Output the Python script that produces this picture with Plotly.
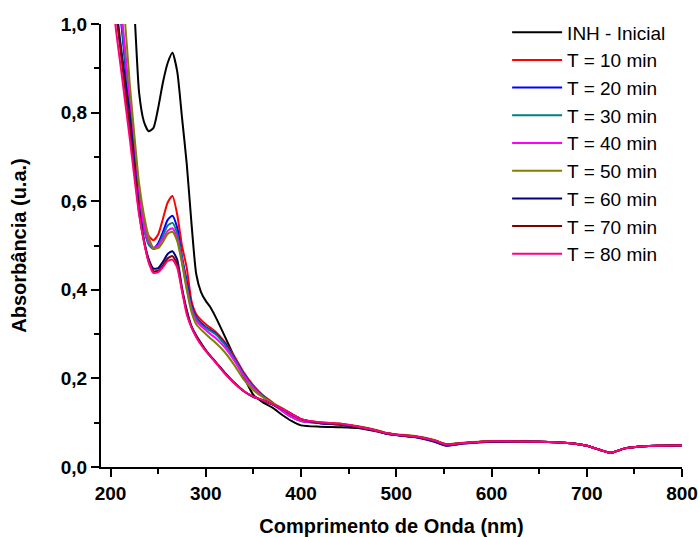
import plotly.graph_objects as go

wavelength = [200, 205, 210, 215, 220, 225, 230, 235, 240, 245, 250, 255, 260, 265, 270, 275,
              280, 285, 290, 295, 300, 305, 310, 320, 330, 340, 350, 360, 370, 380, 390, 400,
              420, 440, 460, 480, 490, 500, 520, 540, 552, 570, 600, 650, 680, 700, 715, 725,
              740, 760, 780, 800]

inh_inicial = [1.60, 1.52, 1.42, 1.30, 1.16, 1.03, 0.845, 0.780, 0.758, 0.765, 0.810, 0.868, 0.912, 0.935, 0.893, 0.790,
               0.685, 0.550, 0.435, 0.395, 0.375, 0.360, 0.340, 0.295, 0.248, 0.203, 0.163, 0.146, 0.134, 0.118, 0.104, 0.094,
               0.091, 0.090, 0.088, 0.080, 0.075, 0.072, 0.068, 0.059, 0.051, 0.054, 0.058, 0.057, 0.054, 0.048, 0.038, 0.032,
               0.042, 0.047, 0.048, 0.049]
t10 = [1.30, 1.17, 1.05, 0.93, 0.82, 0.71, 0.615, 0.555, 0.522, 0.512, 0.525, 0.560, 0.597, 0.612, 0.570, 0.500,
       0.450, 0.375, 0.345, 0.332, 0.322, 0.314, 0.306, 0.282, 0.250, 0.213, 0.184, 0.162, 0.146, 0.128, 0.114, 0.105,
       0.100, 0.097, 0.091, 0.082, 0.076, 0.073, 0.069, 0.060, 0.051, 0.054, 0.058, 0.057, 0.054, 0.048, 0.038, 0.032,
       0.042, 0.047, 0.048, 0.049]
t20 = [1.28, 1.15, 1.03, 0.92, 0.81, 0.70, 0.605, 0.540, 0.505, 0.494, 0.505, 0.530, 0.558, 0.567, 0.540, 0.475,
       0.420, 0.365, 0.338, 0.325, 0.316, 0.309, 0.302, 0.279, 0.246, 0.210, 0.181, 0.160, 0.144, 0.127, 0.113, 0.104,
       0.099, 0.096, 0.090, 0.081, 0.075, 0.072, 0.068, 0.058, 0.049, 0.053, 0.057, 0.057, 0.054, 0.048, 0.038, 0.032,
       0.042, 0.047, 0.048, 0.049]
t30 = [1.28, 1.15, 1.04, 0.93, 0.815, 0.705, 0.607, 0.541, 0.502, 0.492, 0.500, 0.522, 0.545, 0.551, 0.527, 0.470,
       0.410, 0.360, 0.335, 0.322, 0.314, 0.307, 0.300, 0.276, 0.244, 0.208, 0.180, 0.159, 0.143, 0.127, 0.113, 0.104,
       0.100, 0.097, 0.091, 0.082, 0.076, 0.073, 0.069, 0.060, 0.051, 0.054, 0.058, 0.057, 0.054, 0.048, 0.038, 0.032,
       0.042, 0.047, 0.048, 0.049]
t40 = [1.30, 1.17, 1.06, 0.95, 0.83, 0.715, 0.615, 0.548, 0.510, 0.495, 0.500, 0.515, 0.533, 0.539, 0.517, 0.465,
       0.405, 0.355, 0.330, 0.318, 0.309, 0.300, 0.292, 0.270, 0.240, 0.205, 0.178, 0.158, 0.142, 0.127, 0.113, 0.104,
       0.100, 0.097, 0.091, 0.082, 0.076, 0.073, 0.069, 0.060, 0.051, 0.054, 0.058, 0.057, 0.054, 0.048, 0.038, 0.032,
       0.042, 0.047, 0.048, 0.049]
t50 = [1.33, 1.20, 1.10, 1.01, 0.87, 0.75, 0.640, 0.570, 0.520, 0.494, 0.494, 0.508, 0.526, 0.531, 0.510, 0.460,
       0.400, 0.350, 0.322, 0.310, 0.300, 0.290, 0.281, 0.259, 0.230, 0.197, 0.173, 0.158, 0.145, 0.133, 0.120, 0.107,
       0.101, 0.098, 0.092, 0.083, 0.077, 0.074, 0.070, 0.061, 0.052, 0.055, 0.058, 0.057, 0.054, 0.048, 0.038, 0.032,
       0.042, 0.047, 0.048, 0.049]
t60 = [1.18, 1.06, 0.965, 0.88, 0.80, 0.69, 0.585, 0.515, 0.470, 0.448, 0.449, 0.463, 0.481, 0.487, 0.468, 0.405,
       0.355, 0.318, 0.297, 0.280, 0.264, 0.250, 0.238, 0.213, 0.190, 0.171, 0.158, 0.150, 0.141, 0.131, 0.119, 0.108,
       0.099, 0.096, 0.090, 0.081, 0.075, 0.072, 0.067, 0.057, 0.048, 0.053, 0.057, 0.057, 0.054, 0.048, 0.038, 0.032,
       0.042, 0.047, 0.048, 0.049]
t70 = [1.16, 1.04, 0.95, 0.86, 0.77, 0.67, 0.575, 0.510, 0.465, 0.442, 0.443, 0.455, 0.471, 0.476, 0.458, 0.400,
       0.350, 0.316, 0.295, 0.278, 0.263, 0.250, 0.238, 0.212, 0.190, 0.171, 0.159, 0.151, 0.142, 0.132, 0.120, 0.108,
       0.100, 0.097, 0.091, 0.082, 0.076, 0.073, 0.069, 0.060, 0.051, 0.054, 0.058, 0.057, 0.054, 0.048, 0.038, 0.032,
       0.042, 0.047, 0.048, 0.049]
t80 = [1.14, 1.00, 0.915, 0.83, 0.745, 0.655, 0.570, 0.510, 0.462, 0.438, 0.440, 0.451, 0.465, 0.468, 0.450, 0.398,
       0.345, 0.315, 0.293, 0.276, 0.262, 0.249, 0.237, 0.211, 0.189, 0.171, 0.159, 0.151, 0.142, 0.132, 0.120, 0.108,
       0.101, 0.098, 0.091, 0.082, 0.076, 0.073, 0.069, 0.060, 0.051, 0.054, 0.058, 0.057, 0.054, 0.048, 0.038, 0.032,
       0.042, 0.047, 0.048, 0.049]

series_names = ["INH - Inicial", "T = 10 min", "T = 20 min", "T = 30 min", "T = 40 min",
                "T = 50 min", "T = 60 min", "T = 70 min", "T = 80 min"]
series_values = [inh_inicial, t10, t20, t30, t40, t50, t60, t70, t80]
series_colors = ["#000000", "#FF0000", "#0000FF", "#008080", "#FF00FF",
                 "#808000", "#000080", "#800000", "#FF0080"]

x_tickvals = [200, 300, 400, 500, 600, 700, 800]
x_ticktext = ["200", "300", "400", "500", "600", "700", "800"]
y_tickvals = [0.0, 0.2, 0.4, 0.6, 0.8, 1.0]
y_ticktext = ["0,0", "0,2", "0,4", "0,6", "0,8", "1,0"]

FONT = "Liberation Sans, Arial, sans-serif"

fig = go.Figure()
for name, vals, col in zip(series_names, series_values, series_colors):
    fig.add_trace(go.Scatter(x=wavelength, y=vals, mode="lines", name=name,
                             line=dict(color=col, width=2, shape="spline", smoothing=0.6)))

fig.update_layout(
    width=699, height=537,
    margin=dict(l=101, r=17, t=24, b=70, autoexpand=False),
    plot_bgcolor="white", paper_bgcolor="white",
    font=dict(family=FONT, color="black"),
    showlegend=True,
    legend=dict(x=0.699, y=1.024, xanchor="left", yanchor="top",
                font=dict(family=FONT, size=19, color="black"),
                bgcolor="rgba(0,0,0,0)", borderwidth=0, tracegroupgap=0,
                itemwidth=50),
    xaxis=dict(range=[190, 800], tickvals=x_tickvals, ticktext=x_ticktext,
               showgrid=False, zeroline=False, showline=True, linecolor="black", linewidth=2,
               ticks="outside", ticklen=8, tickwidth=2, tickcolor="black",
               minor=dict(dtick=50, tick0=0, ticks="outside", ticklen=5, tickwidth=2, tickcolor="black"),
               tickfont=dict(family=FONT, size=19, weight="bold"),
               title=dict(text="Comprimento de Onda (nm)", font=dict(family=FONT, size=20, weight="bold"),
                          standoff=26)),
    yaxis=dict(range=[0, 1.0], tickvals=y_tickvals, ticktext=y_ticktext,
               showgrid=False, zeroline=False, showline=True, linecolor="black", linewidth=2,
               ticks="outside", ticklen=8, tickwidth=2, tickcolor="black",
               minor=dict(dtick=0.1, tick0=0, ticks="outside", ticklen=5, tickwidth=2, tickcolor="black"),
               tickfont=dict(family=FONT, size=19, weight="bold"),
               title=dict(text="Absorbância (u.a.)", font=dict(family=FONT, size=20, weight="bold"),
                          standoff=29)),
)

fig.write_html("out.html")
